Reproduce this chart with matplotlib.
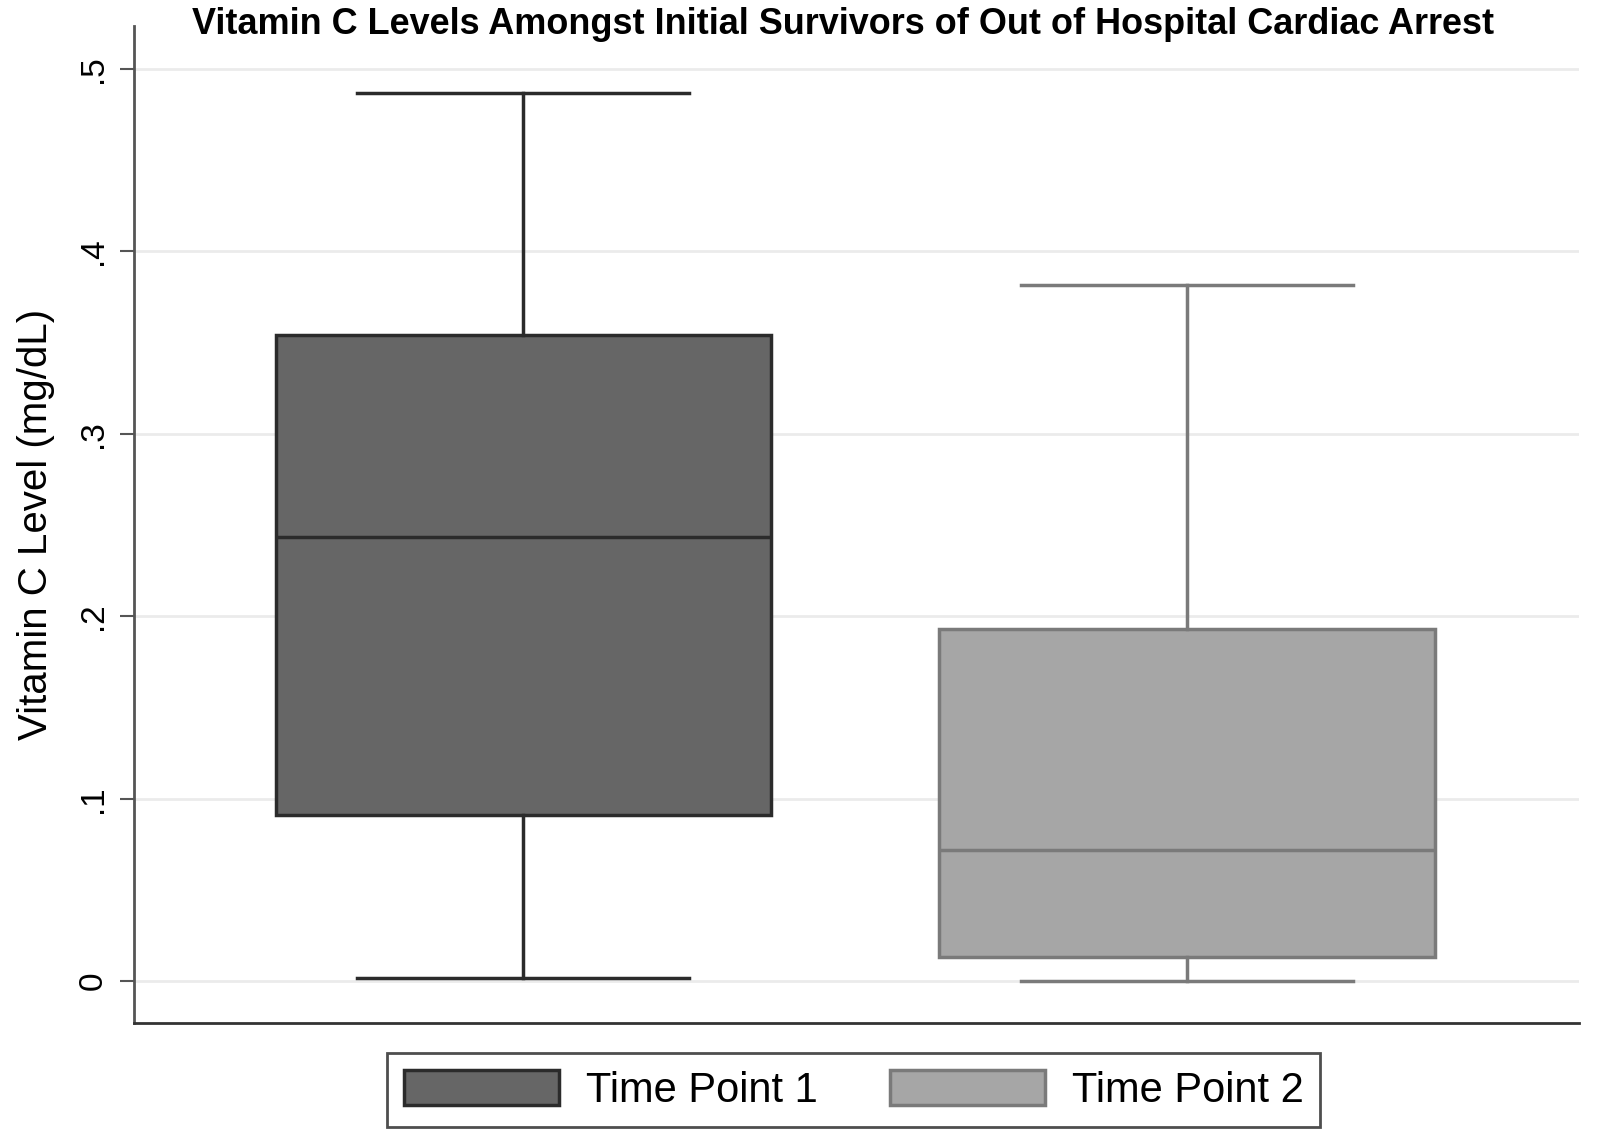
import matplotlib
matplotlib.use("Agg")
import matplotlib.pyplot as plt
from matplotlib.patches import Patch

plt.rcParams["font.family"] = ["Liberation Sans", "DejaVu Sans"]

# Box statistics (mg/dL)
labels = ["Time Point 1", "Time Point 2"]
whislo = [0.002, 0.0]
q1 = [0.091, 0.0135]
med = [0.2435, 0.072]
q3 = [0.354, 0.193]
whishi = [0.487, 0.3815]

fills = ["#666666", "#a6a6a6"]
edges = ["#2b2b2b", "#7a7a7a"]

y_ticks = [0, 0.1, 0.2, 0.3, 0.4, 0.5]
y_tick_labels = ["0", ".1", ".2", ".3", ".4", ".5"]

title = "Vitamin C Levels Amongst Initial Survivors of Out of Hospital Cardiac Arrest"

fig = plt.figure(figsize=(15.99, 11.31), dpi=100)
ax = fig.add_axes([0.0836, 0.0955, 0.9039, 0.8815])

# Grid
for t in y_ticks:
    ax.axhline(t, color="#ebebeb", lw=2, zorder=0)

stats = []
for i in range(len(labels)):
    stats.append({
        "label": labels[i],
        "whislo": whislo[i],
        "q1": q1[i],
        "med": med[i],
        "q3": q3[i],
        "whishi": whishi[i],
        "fliers": [],
    })

for i, s in enumerate(stats):
    ax.bxp(
        [s],
        positions=[i + 1],
        widths=0.7465,
        capwidths=0.5,
        patch_artist=True,
        showfliers=False,
        boxprops=dict(facecolor=fills[i], edgecolor=edges[i], linewidth=2.5),
        medianprops=dict(color=edges[i], linewidth=2.5),
        whiskerprops=dict(color=edges[i], linewidth=2.5),
        capprops=dict(color=edges[i], linewidth=2.5),
        manage_ticks=False,
    )

ax.set_xlim(0.413, 2.59)
ax.set_ylim(-0.0229, 0.5235)
ax.set_xticks([])
ax.set_yticks(y_ticks)
ax.set_yticklabels(y_tick_labels, rotation=90, va="center", fontsize=24)
ax.tick_params(axis="y", length=10, width=1.5, color="#555555", pad=8)

for side in ["top", "right"]:
    ax.spines[side].set_visible(False)
ax.spines["left"].set_color("#555555")
ax.spines["left"].set_linewidth(2)
ax.spines["bottom"].set_color("#333333")
ax.spines["bottom"].set_linewidth(2)

ax.set_ylabel("Vitamin C Level (mg/dL)", fontsize=29, labelpad=16)

# Title placed in figure coords, width fitted to the reference span
ttl = fig.text(0.527, 0.978, title, ha="center", va="center",
               fontsize=20, fontweight="bold")
fig.canvas.draw()
w = ttl.get_window_extent().width
ttl.set_fontsize(20 * 1297 / w)

handles = [Patch(facecolor=fills[i], edgecolor=edges[i], linewidth=2.5,
                 label=labels[i]) for i in range(len(labels))]
leg = fig.legend(
    handles=handles, ncol=2, loc="center", bbox_to_anchor=(0.534, 0.036),
    fontsize=30, frameon=True, fancybox=False, handlelength=3.72,
    handleheight=0.93, columnspacing=1.74, borderpad=0.4, handletextpad=0.64,
    borderaxespad=0,
)
leg.get_frame().set_edgecolor("#222222")
leg.get_frame().set_linewidth(2)

fig.savefig("out.png", dpi=100)
